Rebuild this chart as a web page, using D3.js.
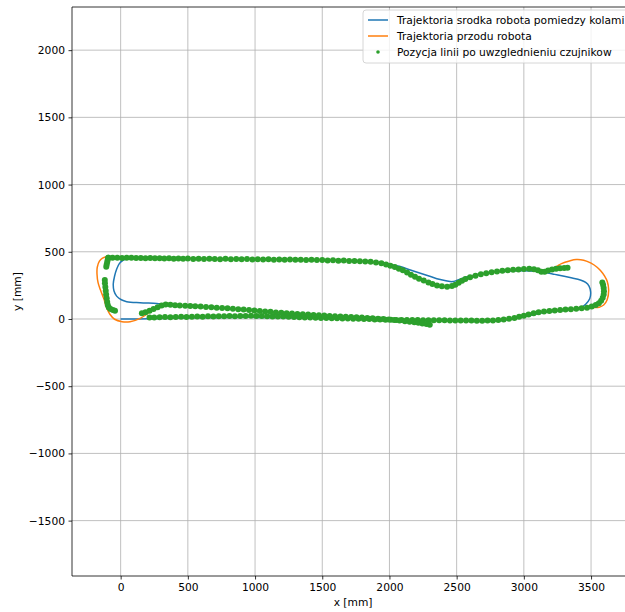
<!DOCTYPE html>
<html>
<head>
<meta charset="utf-8">
<script src="https://cdn.jsdelivr.net/npm/d3@7"></script>
<style>
  html, body { margin: 0; padding: 0; background: #fff; }
  svg { display: block; font-family: "DejaVu Sans", sans-serif; }
</style>
</head>
<body>
<svg id="chart" width="625" height="612"></svg>
<script>
// Robot centre trajectory (mm)
const centerPath = [[0,0],[100,0],[205,2],[400,6],[700,10],[1000,12],[1300,8],[1600,2],[1900,-5],[2200,-10],[2500,-15],[2700,-18],[2800,-15],[2880,-6],[2960,8],[3050,28],[3150,48],[3250,60],[3350,70],[3420,84],[3460,110],[3490,150],[3497,200],[3485,245],[3460,272],[3420,290],[3360,305],[3300,318],[3230,332],[3160,346],[3080,355],[3000,358],[2900,357],[2800,350],[2720,342],[2640,328],[2560,308],[2500,286],[2470,278],[2420,284],[2370,295],[2300,318],[2230,340],[2150,366],[2080,390],[2000,408],[1900,422],[1750,432],[1500,440],[1200,444],[900,447],[600,450],[300,452],[120,453],[60,450],[20,439],[-10,412],[-30,370],[-45,320],[-55,260],[-50,210],[-30,170],[5,143],[45,129],[144,121],[268,116],[330,110],[500,97],[800,78],[1100,52],[1400,32],[1700,16],[1950,-2],[2150,-20],[2250,-32]];

// Robot front trajectory (mm)
const frontPath = [[215,8],[500,14],[800,18],[1100,17],[1400,10],[1700,3],[2000,-6],[2300,-10],[2600,-13],[2750,-12],[2850,-4],[2950,12],[3050,35],[3150,55],[3270,68],[3400,78],[3500,86],[3560,88],[3594,104],[3619,141],[3631,216],[3620,280],[3600,320],[3570,360],[3545,385],[3500,415],[3445,437],[3390,442],[3340,432],[3280,412],[3245,392],[3200,370],[3160,348],[3135,340],[3110,352],[3060,370],[3000,372],[2900,365],[2800,353],[2700,337],[2600,312],[2540,286],[2490,256],[2440,238],[2390,242],[2330,258],[2250,289],[2150,338],[2060,380],[2000,400],[1900,421],[1750,432],[1500,440],[1200,444],[900,447],[600,450],[300,453],[50,456],[-60,461],[-102,463],[-135,452],[-158,430],[-174,385],[-176,335],[-168,270],[-150,215],[-125,150],[-105,85],[-80,35],[-45,-2],[10,-20],[70,-20],[145,5],[220,54],[260,85],[295,104],[344,118],[400,104],[700,85],[1000,62],[1300,40],[1600,21],[1900,2],[2100,-15],[2250,-33]];

// Detected line positions (mm): upper straight and right bend
const lineTop = [[-92,456],[-60,455],[-25,456],[10,454],[45,455],[80,456],[115,453],[150,454],[185,452],[220,453],[255,451],[290,452],[325,450],[360,452],[395,449],[430,450],[465,448],[500,450],[540,447],[580,449],[620,446],[660,448],[700,447],[740,445],[780,448],[820,445],[860,446],[900,444],[940,446],[980,443],[1020,445],[1060,442],[1100,444],[1140,441],[1180,443],[1220,440],[1260,442],[1300,440],[1340,441],[1380,439],[1420,440],[1460,438],[1500,439],[1540,436],[1580,437],[1620,434],[1660,435],[1700,432],[1740,431],[1780,429],[1820,427],[1860,425],[1900,421],[1940,415],[1975,406],[2007,396],[2040,386],[2070,374],[2100,362],[2131,346],[2160,330],[2190,314],[2220,300],[2255,287],[2290,272],[2320,261],[2354,250],[2390,243],[2429,240],[2465,246],[2490,255],[2515,270],[2540,285],[2565,298],[2600,310],[2640,322],[2680,332],[2720,340],[2760,347],[2800,353],[2840,358],[2880,362],[2920,366],[2960,369],[3000,371],[3040,373],[3075,370],[3105,362],[3130,352],[3155,352],[3180,360],[3210,368],[3240,373],[3270,377],[3300,379],[3325,381]];

// Detected line positions (mm): lower straight, first lap, and right bend
const lineLowerA = [[215,12],[250,12],[290,13],[330,14],[370,13],[410,15],[450,16],[490,15],[530,17],[570,18],[610,17],[650,20],[690,19],[730,21],[770,20],[810,22],[850,21],[890,23],[930,22],[970,24],[1010,23],[1050,22],[1090,20],[1130,19],[1170,18],[1210,18],[1250,16],[1290,15],[1330,13],[1370,12],[1410,11],[1450,10],[1490,8],[1530,7],[1570,5],[1610,5],[1650,4],[1690,3],[1730,2],[1770,1],[1810,0],[1850,-1],[1890,-3],[1930,-4],[1970,-5],[2010,-6],[2050,-7],[2090,-7],[2130,-8],[2170,-8],[2210,-8],[2250,-9],[2290,-9],[2330,-10],[2370,-10],[2410,-10],[2450,-11],[2490,-11],[2530,-12],[2570,-12],[2610,-12],[2650,-13],[2690,-13],[2730,-12],[2770,-11],[2810,-8],[2850,-4],[2890,2],[2930,8],[2965,16],[3000,25],[3035,34],[3073,42],[3110,50],[3150,56],[3190,60],[3230,63],[3270,67],[3310,70],[3350,73],[3390,76],[3430,79],[3470,84],[3505,92],[3535,104],[3558,118],[3575,135],[3587,158],[3594,182],[3596,206],[3594,230],[3590,252],[3584,272]];

// Detected line positions (mm): lower straight, second lap
const lineLowerB = [[158,42],[185,50],[215,62],[245,74],[275,88],[305,100],[335,108],[370,105],[405,103],[440,101],[480,99],[518,97],[555,95],[595,92],[635,90],[675,87],[715,84],[755,82],[795,79],[835,76],[875,73],[915,70],[955,67],[995,63],[1035,60],[1075,56],[1115,53],[1155,49],[1195,46],[1235,43],[1275,40],[1315,38],[1355,35],[1395,33],[1435,30],[1475,28],[1515,26],[1555,23],[1595,21],[1635,19],[1675,17],[1715,15],[1755,13],[1795,11],[1835,8],[1875,5],[1915,2],[1955,-1],[1995,-4],[2035,-8],[2075,-12],[2115,-16],[2150,-20],[2185,-24],[2215,-28],[2245,-33],[2275,-38],[2300,-42]];

// Detected line positions (mm): left bend
const lineLeft = [[-92,456],[-96,440],[-100,424],[-104,406],[-107,388],[-118,290],[-117,265],[-114,238],[-111,210],[-108,182],[-104,154],[-100,126],[-96,104],[-88,86],[-75,74],[-58,67],[-42,62]];

const xTicks = [0, 500, 1000, 1500, 2000, 2500, 3000, 3500];
const yTicks = [-1500, -1000, -500, 0, 500, 1000, 1500, 2000];

const seriesNames = [
  "Trajektoria srodka robota pomiedzy kolami",
  "Trajektoria przodu robota",
  "Pozycja linii po uwzglednieniu czujnikow"
];
const colors = ["#1f77b4", "#ff7f0e", "#2ca02c"];

const fontSize = 10.7;
const svg = d3.select("#chart");
const plot = { left: 72, top: 7, bottom: 576 };
const pxPerMm = 0.1344;
const xMin = -362, xMax = 3821;
const yMin = -1912, yMax = 2321;

const x = d3.scaleLinear().domain([xMin, xMax]).range([plot.left, plot.left + (xMax - xMin) * pxPerMm]);
const y = d3.scaleLinear().domain([yMin, yMax]).range([plot.bottom, plot.top]);
const plotRight = x(xMax);

const fmt = v => (v < 0 ? "\u2212" + Math.abs(v) : String(v));

svg.append("defs").append("clipPath").attr("id", "plotClip")
  .append("rect").attr("x", plot.left).attr("y", plot.top)
  .attr("width", plotRight - plot.left).attr("height", plot.bottom - plot.top);

// grid
const grid = svg.append("g").attr("stroke", "#b0b0b0").attr("stroke-width", 0.8);
xTicks.forEach(t => grid.append("line").attr("x1", x(t)).attr("x2", x(t)).attr("y1", plot.top).attr("y2", plot.bottom));
yTicks.forEach(t => grid.append("line").attr("x1", plot.left).attr("x2", plotRight).attr("y1", y(t)).attr("y2", y(t)));

const data = svg.append("g").attr("clip-path", "url(#plotClip)");
const line = d3.line().x(d => x(d[0])).y(d => y(d[1])).curve(d3.curveCatmullRom.alpha(0.5));

data.append("path").datum(centerPath).attr("d", line)
  .attr("fill", "none").attr("stroke", colors[0]).attr("stroke-width", 1.5).attr("stroke-linejoin", "round");
data.append("path").datum(frontPath).attr("d", line)
  .attr("fill", "none").attr("stroke", colors[1]).attr("stroke-width", 1.5).attr("stroke-linejoin", "round");

const dots = [].concat(lineLeft, lineTop, lineLowerA, lineLowerB);
data.append("g").selectAll("circle").data(dots).join("circle")
  .attr("cx", d => x(d[0])).attr("cy", d => y(d[1])).attr("r", 3)
  .attr("fill", colors[2]);

// axes
const xAxis = d3.axisBottom(x).tickValues(xTicks).tickFormat(fmt).tickSize(3.5).tickPadding(3.5);
const yAxis = d3.axisLeft(y).tickValues(yTicks).tickFormat(fmt).tickSize(3.5).tickPadding(3.5);

const gx = svg.append("g").attr("transform", `translate(0,${plot.bottom})`).call(xAxis);
const gy = svg.append("g").attr("transform", `translate(${plot.left},0)`).call(yAxis);
[gx, gy].forEach(g => {
  g.select(".domain").remove();
  g.selectAll(".tick line").attr("stroke", "#000").attr("stroke-width", 0.8);
  g.selectAll(".tick text").attr("fill", "#000").attr("font-size", fontSize).attr("font-family", "DejaVu Sans");
});

// spines
const sp = svg.append("g").attr("stroke", "#000").attr("stroke-width", 0.8).attr("fill", "none");
sp.append("line").attr("x1", plot.left).attr("x2", plot.left).attr("y1", plot.top).attr("y2", plot.bottom);
sp.append("line").attr("x1", plot.left).attr("x2", plotRight).attr("y1", plot.bottom).attr("y2", plot.bottom);
sp.append("line").attr("x1", plot.left).attr("x2", plotRight).attr("y1", plot.top).attr("y2", plot.top);
sp.append("line").attr("x1", plotRight).attr("x2", plotRight).attr("y1", plot.top).attr("y2", plot.bottom);

// axis labels
svg.append("text").attr("x", (plot.left + plotRight) / 2).attr("y", 606)
  .attr("text-anchor", "middle").attr("font-size", fontSize).text("x [mm]");
svg.append("text").attr("transform", `translate(21,${(plot.top + plot.bottom) / 2}) rotate(-90)`)
  .attr("text-anchor", "middle").attr("font-size", fontSize).text("y [mm]");

// legend
const lg = svg.append("g").attr("transform", "translate(363,10)");
lg.append("rect").attr("x", 0).attr("y", 0).attr("width", 300).attr("height", 53).attr("rx", 3)
  .attr("fill", "#fff").attr("fill-opacity", 0.8).attr("stroke", "#cccccc").attr("stroke-width", 0.8);
seriesNames.forEach((name, i) => {
  const cy = 10 + i * 16;
  if (i < 2) {
    lg.append("line").attr("x1", 5).attr("x2", 25).attr("y1", cy).attr("y2", cy)
      .attr("stroke", colors[i]).attr("stroke-width", 1.5);
  } else {
    lg.append("circle").attr("cx", 15).attr("cy", cy).attr("r", 1.8).attr("fill", colors[i]);
  }
  lg.append("text").attr("x", 34).attr("y", cy + 3.8).attr("font-size", fontSize).text(name);
});
</script>
</body>
</html>
